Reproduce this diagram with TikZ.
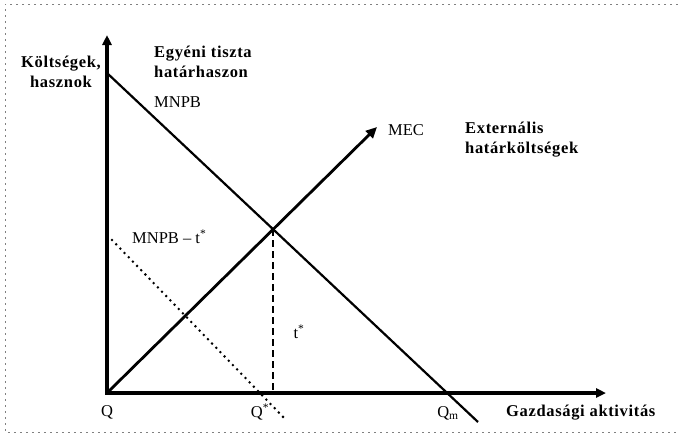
\documentclass[tikz,border=0pt]{standalone}
\usepackage{fontspec}
\setmainfont{Liberation Serif}
\usetikzlibrary{arrows.meta}
\tikzset{
  axis/.style={line width=3.2pt,-{Triangle[length=10pt,width=9pt]}},
  curve/.style={line width=2.2pt},
  lbl/.style={font=\fontsize{16.5}{19}\selectfont,inner sep=0pt},
  blbl/.style={font=\bfseries\addfontfeatures{LetterSpace=4}\fontsize{16.5}{20}\selectfont,inner sep=0pt,align=left}
}
\begin{document}
\begin{tikzpicture}[x=1pt,y=-1pt,line cap=butt,line join=miter]
\path[use as bounding box] (0,0) rectangle (678,440);
\draw[gray,line width=0.7pt,dash pattern=on 2pt off 4pt] (678,4) -- (5,4) -- (5,432) -- (678,432);
% points of the diagram
\coordinate (O) at (107,393);
\coordinate (ytop) at (107,35);
\coordinate (xend) at (606,393);
\coordinate (mnpbA) at (107,73);
\coordinate (mnpbB) at (478,422);
\coordinate (mecB) at (377,127);
\coordinate (dotA) at (112,240);
\coordinate (dotB) at (287,421);
\coordinate (E) at (intersection of mnpbA--mnpbB and O--mecB);
\coordinate (Qs) at (E |- O);
% curves
\draw[curve] (mnpbA) -- (mnpbB);
\draw[line width=2.8pt,line cap=round,dash pattern=on 0pt off 6pt] (dotA) -- (dotB);
\draw[line width=1.8pt,dash pattern=on 7pt off 4pt] (E) -- (Qs);
\draw[line width=2.8pt,-{Triangle[length=11pt,width=10pt]}] (O) -- (mecB);
% axes
\draw[axis] (O) -- (ytop);
\draw[axis] ([xshift=-1.6pt]O) -- (xend);
% labels
\node[blbl,align=center] (kolts) at (61,72) {Költségek,\\hasznok};
\node[blbl,anchor=west] (egyeni) at (154,62) {Egyéni tiszta\\határhaszon};
\node[lbl,anchor=west] (mnpb) at (154,102) {MNPB};
\node[lbl,anchor=west] (mec) at (388,130) {MEC};
\node[blbl,anchor=west] (ext) at (465,140) {Externális\\határköltségek};
\node[lbl,anchor=west] (mnpbt) at (132,237) {MNPB -- t\textsuperscript{*}};
\node[lbl] (tstar) at (299,332) {t\textsuperscript{*}};
\node[lbl] (q0) at (107,412) {Q};
\node[lbl] (qstar) at (260,412) {Q\textsuperscript{*}};
\node[lbl] (qm) at (448,413) {Q\textsubscript{m}};
\node[blbl,anchor=west] (gazd) at (506,413) {Gazdasági aktivitás};
\end{tikzpicture}
\end{document}
